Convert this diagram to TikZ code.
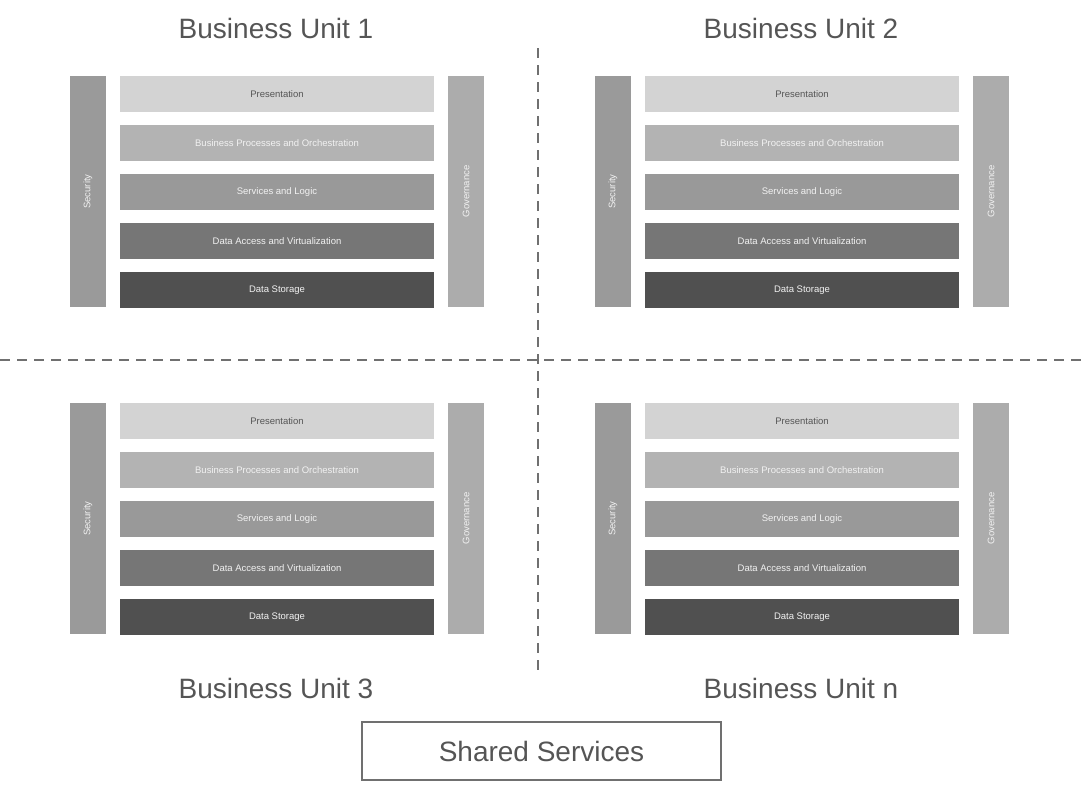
\documentclass[tikz,border=0pt]{standalone}
\usepackage{fontspec}
\setmainfont{Liberation Sans}
\usetikzlibrary{positioning}
\definecolor{txtgray}{HTML}{555555}
\definecolor{presgray}{HTML}{D3D3D3}
\definecolor{procgray}{HTML}{B3B3B3}
\definecolor{svcgray}{HTML}{999999}
\definecolor{accgray}{HTML}{767676}
\definecolor{storgray}{HTML}{505050}
\definecolor{secgray}{HTML}{9A9A9A}
\definecolor{govgray}{HTML}{ACACAC}
\definecolor{linegray}{HTML}{707070}
\tikzset{%
    layer/.style={fill=#1, minimum width=314pt, minimum height=36pt,
        inner sep=0pt, outer sep=0pt, text=white!95!black, font=\fontsize{9.5}{11}\selectfont},
    sidebar/.style={fill=#1, rotate=90, minimum width=231pt, minimum height=36pt,
        inner sep=0pt, outer sep=0pt, text=white!95!black, font=\fontsize{9.5}{11}\selectfont},
    unit/.style={text=txtgray, font=\fontsize{28}{32}\selectfont},
    divider/.style={linegray, line width=1.5pt, dash pattern=on 10pt off 7pt}
}

\begin{document}
\begin{tikzpicture}[x=1pt,y=-1pt]
    \useasboundingbox (0,0) rectangle (1081,785);
    % the four business units
    \foreach \dx/\dy/\q in {0/0/a,525/0/b,0/327/c,525/327/d}{
        \node[layer=presgray,text=txtgray] (\q-pres) at (277+\dx,94+\dy) {Presentation};
        \node[layer=procgray,below=13pt of \q-pres] (\q-proc) {Business Processes and Orchestration};
        \node[layer=svcgray,below=13pt of \q-proc] (\q-svc) {Services and Logic};
        \node[layer=accgray,below=13pt of \q-svc] (\q-acc) {Data Access and Virtualization};
        \node[layer=storgray,below=13pt of \q-acc] (\q-stor) {Data Storage};
        \node[sidebar=secgray] (\q-sec) at (88+\dx,191.5+\dy) {Security};
        \node[sidebar=govgray] (\q-gov) at (466+\dx,191.5+\dy) {Governance};
    }
    \node[unit] (unit1) at (276,28) {Business Unit 1};
    \node[unit] (unit2) at (801,28) {Business Unit 2};
    \node[unit] (unit3) at (276,688) {Business Unit 3};
    \node[unit] (unitn) at (801,688) {Business Unit n};
    % dividers
    \draw[divider] (0,360) -- (1081,360);
    \draw[divider] (538,48) -- (538,672);
    \node[unit, draw=linegray, line width=2.5pt, minimum width=359pt,
        minimum height=58pt] (shared) at (541.5,751) {Shared Services};
\end{tikzpicture}
\end{document}
